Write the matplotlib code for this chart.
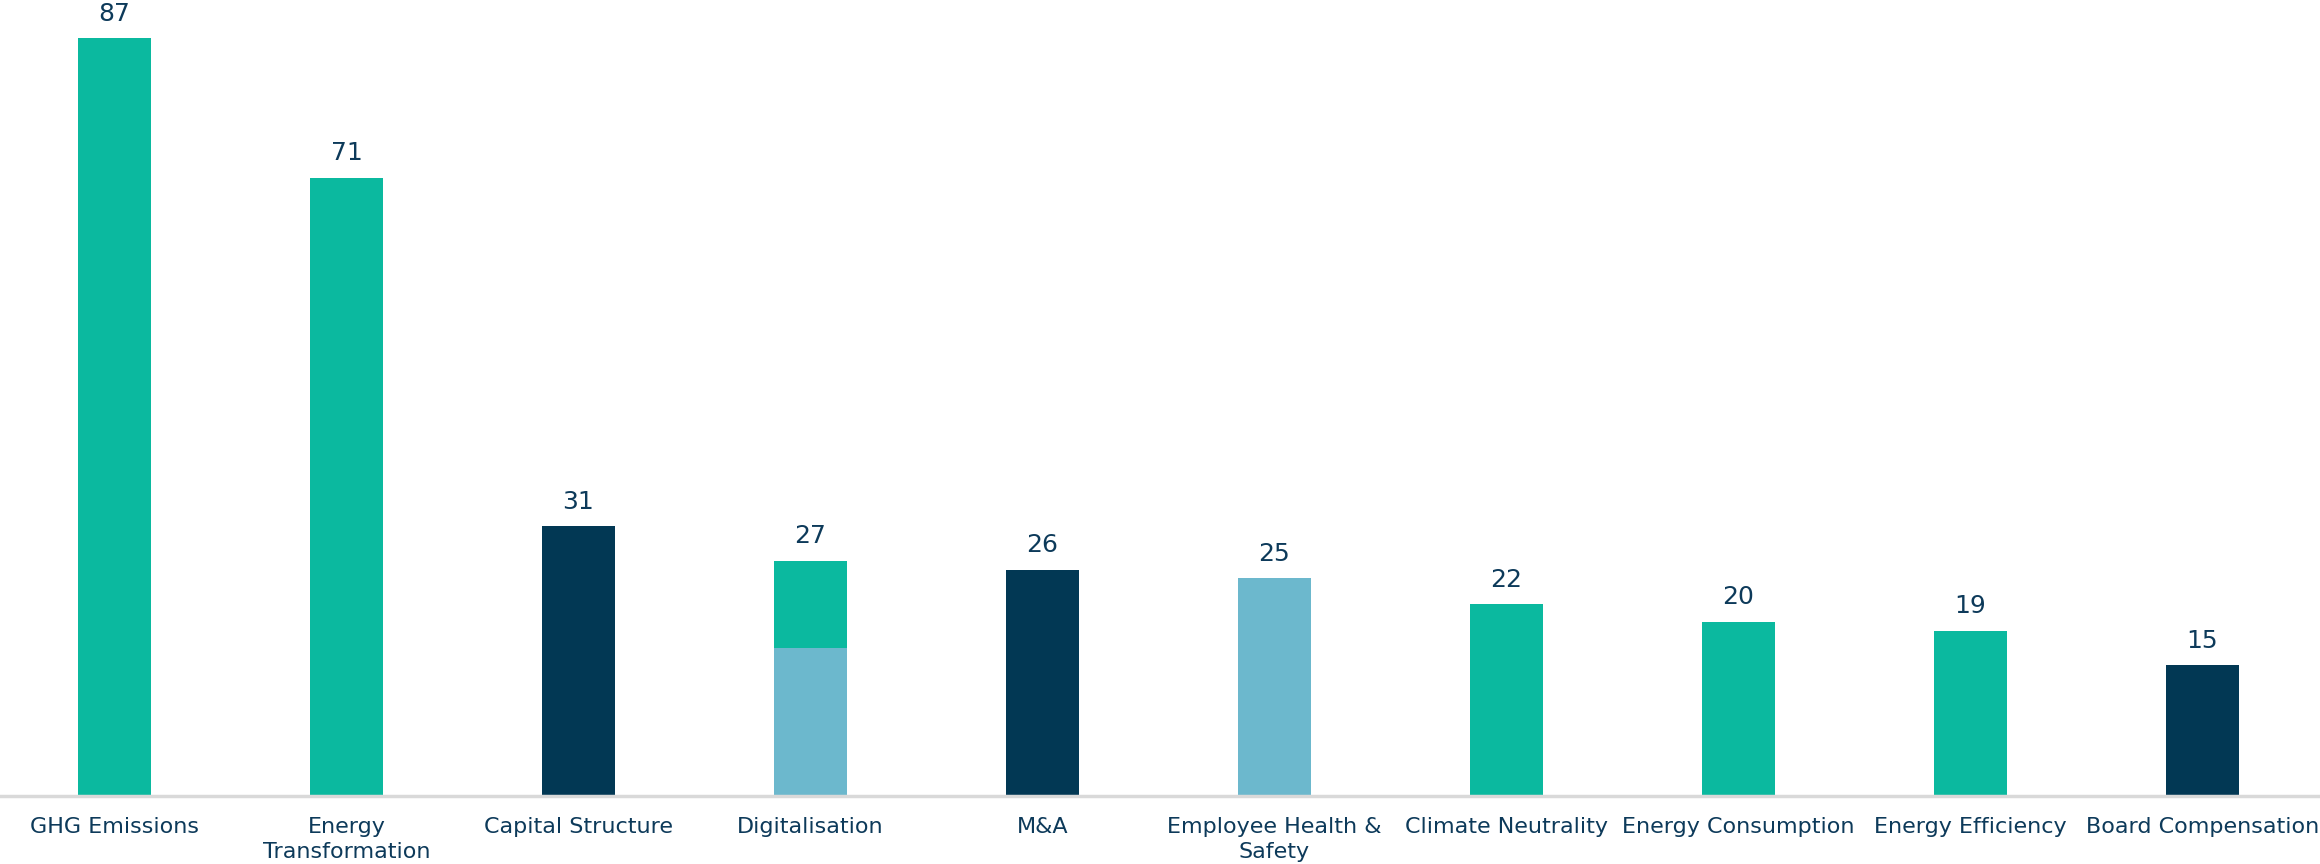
import numpy as np
import matplotlib.pyplot as plt

categories = ["GHG Emissions", "Energy\nTransformation", "Capital Structure",
              "Digitalisation", "M&A", "Employee Health &\nSafety",
              "Climate Neutrality", "Energy Consumption", "Energy Efficiency",
              "Board Compensation"]
base = [87, 71, 31, 17, 26, 25, 22, 20, 19, 15]
top = [0, 0, 0, 10, 0, 0, 0, 0, 0, 0]

green = "#0bb99f"
navy = "#023854"
light = "#6cb8cd"
text_col = "#0d3a5a"
base_colors = [green, green, navy, light, navy, light, green, green, green, navy]

fig = plt.figure(figsize=(23.2, 8.64), dpi=100)
ax = fig.add_axes([0, 68 / 864, 1, 796 / 864])

x = np.arange(len(categories))
w = 0.315
ax.bar(x, base, width=w, color=base_colors, zorder=2)
ax.bar(x, top, width=w, bottom=base, color=green, zorder=2)

totals = np.array(base) + np.array(top)
for xi, t in zip(x, totals):
    ax.annotate(str(t), (xi, t), xytext=(0, 9), textcoords="offset points",
                ha="center", va="bottom", fontsize=18, color=text_col,
                fontweight="medium")

ax.set_xlim(-0.4935, 9.5065)
ax.set_ylim(0, 91.4)
ax.set_xticks(x)
ax.set_xticklabels(categories, fontsize=16, color=text_col, linespacing=1.3,
                   fontweight="medium")
ax.tick_params(axis="x", length=0, pad=15)
ax.set_yticks([])
for s in ["top", "left", "right"]:
    ax.spines[s].set_visible(False)
ax.spines["bottom"].set_color("#d9d9d9")
ax.spines["bottom"].set_linewidth(2.5)

fig.savefig("out.png", dpi=100)
